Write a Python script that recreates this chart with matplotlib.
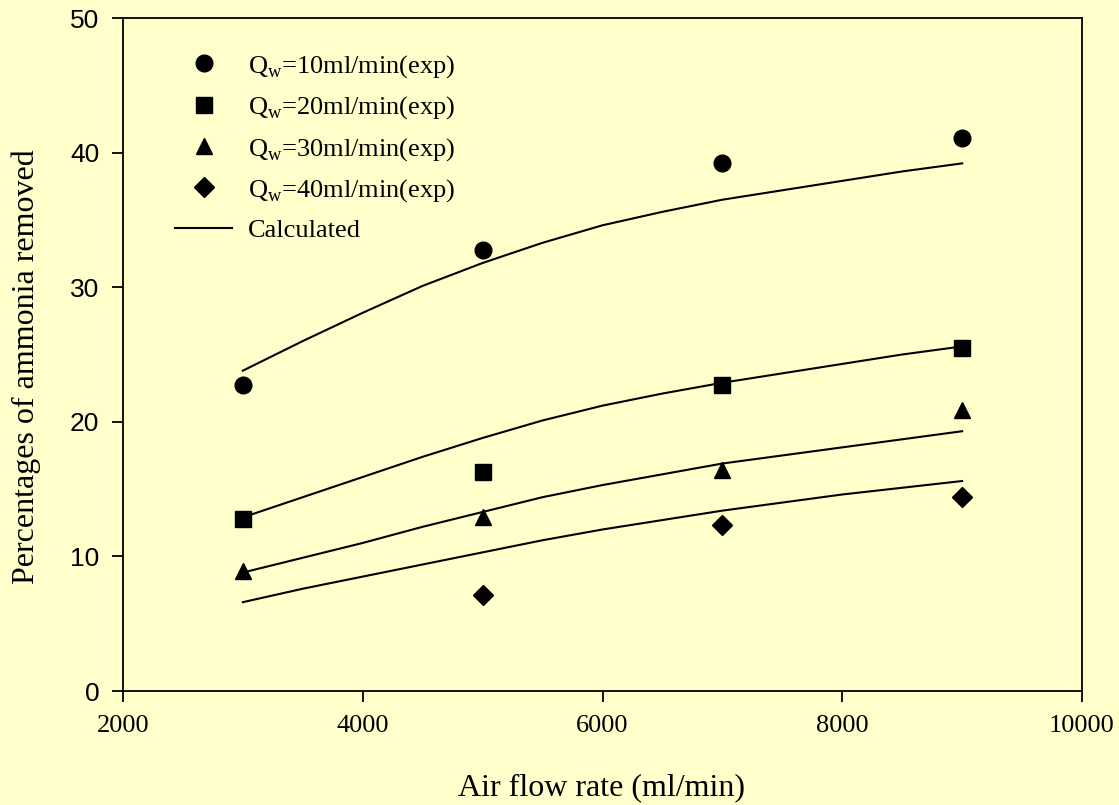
import numpy as np
import matplotlib.pyplot as plt

# ---------------------------------------------------------
# Measured ammonia removal vs. air flow rate
# ---------------------------------------------------------

air_flow = [3000, 5000, 7000, 9000]

removal_q10 = [22.7, 32.8, 39.2, 41.1]
removal_q20 = [12.8, 16.3, 22.7, 25.5]
removal_q30 = [8.9, 12.9, 16.4, 20.9]
# no measurement at 3000 ml/min for Qw = 40
air_flow_q40 = [5000, 7000, 9000]
removal_q40 = [7.1, 12.3, 14.4]

# model curves
air_flow_calc = [3000, 3500, 4000, 4500, 5000, 5500, 6000,
                 6500, 7000, 7500, 8000, 8500, 9000]
calc_q10 = [23.8, 26.0, 28.1, 30.1, 31.8, 33.3, 34.6,
            35.6, 36.5, 37.2, 37.9, 38.6, 39.2]
calc_q20 = [12.9, 14.4, 15.9, 17.4, 18.8, 20.1, 21.2,
            22.1, 22.9, 23.6, 24.3, 25.0, 25.6]
calc_q30 = [8.8, 9.9, 11.0, 12.2, 13.3, 14.4, 15.3,
            16.1, 16.9, 17.5, 18.1, 18.7, 19.3]
calc_q40 = [6.6, 7.6, 8.5, 9.4, 10.3, 11.2, 12.0,
            12.7, 13.4, 14.0, 14.6, 15.1, 15.6]

labels = ["Q$_\\mathregular{w}$=10ml/min(exp)",
          "Q$_\\mathregular{w}$=20ml/min(exp)",
          "Q$_\\mathregular{w}$=30ml/min(exp)",
          "Q$_\\mathregular{w}$=40ml/min(exp)",
          "Calculated"]

bg = "#FFFFCC"
serif = "Liberation Serif"
sans = "Liberation Sans"

plt.rcParams["mathtext.fontset"] = "custom"
plt.rcParams["mathtext.rm"] = serif

fig = plt.figure(figsize=(11.19, 8.05), dpi=100, facecolor=bg)
ax = fig.add_axes([123 / 1119, 1 - 691 / 805, 959 / 1119, 673 / 805])
ax.set_facecolor(bg)

ax.plot(air_flow, removal_q10, "o", color="black", ms=12, label=labels[0])
ax.plot(air_flow, removal_q20, "s", color="black", ms=11, label=labels[1])
ax.plot(air_flow, removal_q30, "^", color="black", ms=12, label=labels[2])
ax.plot(air_flow_q40, removal_q40, "D", color="black", ms=10.5, label=labels[3])

for i, curve in enumerate([calc_q10, calc_q20, calc_q30, calc_q40]):
    ax.plot(air_flow_calc, curve, "-", color="black", lw=1.5,
            label=labels[4] if i == 0 else None)

ax.set_xlim(2000, 10000)
ax.set_ylim(0, 50)
ax.set_xticks([2000, 4000, 6000, 8000, 10000])
ax.set_yticks([0, 10, 20, 30, 40, 50])

for s in ax.spines.values():
    s.set_linewidth(1.3)

ax.tick_params(axis="both", direction="out", length=8, width=1.3, pad=9,
               top=False, right=False)
for t in ax.get_xticklabels():
    t.set_fontfamily(serif)
    t.set_fontsize(19)
for t in ax.get_yticklabels():
    t.set_fontfamily(sans)
    t.set_fontsize(19)

fig.text(602 / 1119, 1 - 788 / 805, "Air flow rate (ml/min)",
         family=serif, fontsize=23, ha="center", va="center")
fig.text(26 / 1119, 1 - 367 / 805, "Percentages of ammonia removed",
         family=serif, fontsize=23, ha="center", va="center", rotation=90)

ax.legend(loc="upper left", bbox_to_anchor=((175 - 123) / 959, 0.948),
          frameon=False, borderaxespad=0, borderpad=0,
          prop={"family": serif, "size": 19},
          handlelength=2.16, handletextpad=0.6, labelspacing=0.55)

fig.savefig("out.png", dpi=100, facecolor=bg)
